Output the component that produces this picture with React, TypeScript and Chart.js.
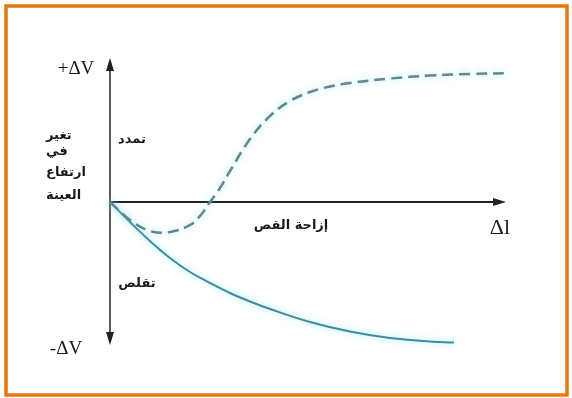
import React, { useEffect, useRef } from "react";
import { Chart, registerables } from "chart.js";

Chart.register(...registerables);

// Δl (shear displacement), arbitrary units
const dilatantX = [0, 0.5, 1, 1.5, 2, 2.25, 2.5, 2.75, 3, 3.5, 4, 4.5, 5, 5.5, 6, 7, 8, 9, 10];
// ΔV for the dashed (dilatant / dense) curve
const dilatantY = [0, -0.18, -0.29, -0.3, -0.23, -0.14, 0, 0.14, 0.31, 0.63, 0.86, 1.01, 1.1, 1.155, 1.19, 1.235, 1.265, 1.28, 1.29];

const contractX = [0, 0.5, 1, 1.5, 2, 2.5, 3, 3.5, 4, 5, 6, 7, 8, 8.6];
// ΔV for the solid (contractive / loose) curve
const contractY = [0, -0.2, -0.39, -0.56, -0.7, -0.81, -0.91, -0.995, -1.07, -1.2, -1.295, -1.36, -1.395, -1.405];

const yAxisTop = 1.44;
const yAxisBottom = -1.43;
const xAxisEnd = 9.9;

const labelPlus = "+ΔV";
const labelMinus = "-ΔV";
const labelDl = "Δl";
const labelYTitle = ["تغير", "في", "ارتفاع", "العينة"];
const labelExpand = "تمدد";
const labelContract = "تقلص";
const labelShear = "إزاحة القص";

const toPts = (xs: number[], ys: number[]) => xs.map((x, i) => ({ x, y: ys[i] }));

const decorPlugin = {
  id: "decor",
  beforeDatasetsDraw(chart: any) {
    const { ctx, scales } = chart;
    const xs = scales.x;
    const ys = scales.y;
    const ox = xs.getPixelForValue(0);
    const oy = ys.getPixelForValue(0);
    const top = ys.getPixelForValue(yAxisTop);
    const bot = ys.getPixelForValue(yAxisBottom);
    const right = xs.getPixelForValue(xAxisEnd);
    ctx.save();
    // frame
    ctx.strokeStyle = "#e8750f";
    ctx.lineWidth = 3.5;
    ctx.strokeRect(6, 6, chart.width - 11, chart.height - 9);
    // axes
    ctx.strokeStyle = "#222";
    ctx.fillStyle = "#222";
    ctx.lineWidth = 1.5;
    ctx.beginPath();
    ctx.moveTo(ox, top + 8);
    ctx.lineTo(ox, bot - 8);
    ctx.stroke();
    ctx.lineWidth = 1.8;
    ctx.beginPath();
    ctx.moveTo(ox, oy);
    ctx.lineTo(right - 8, oy);
    ctx.stroke();
    // arrowheads
    ctx.beginPath();
    ctx.moveTo(ox, top);
    ctx.lineTo(ox - 4, top + 13);
    ctx.lineTo(ox + 4, top + 13);
    ctx.closePath();
    ctx.fill();
    ctx.beginPath();
    ctx.moveTo(ox, bot);
    ctx.lineTo(ox - 4, bot - 13);
    ctx.lineTo(ox + 4, bot - 13);
    ctx.closePath();
    ctx.fill();
    ctx.beginPath();
    ctx.moveTo(right, oy);
    ctx.lineTo(right - 13, oy - 4);
    ctx.lineTo(right - 13, oy + 4);
    ctx.closePath();
    ctx.fill();
    ctx.restore();

    // glow for lines
    ctx.save();
    ctx.shadowColor = "rgba(110,225,240,0.75)";
    ctx.shadowBlur = 6;
  },
  afterDatasetsDraw(chart: any) {
    const { ctx } = chart;
    ctx.restore();
    ctx.save();
    ctx.fillStyle = "#1a1a1a";
    ctx.textBaseline = "middle";
    ctx.textAlign = "center";
    ctx.font = '19px "Liberation Serif", serif';
    ctx.fillText(labelPlus, 76, 69);
    ctx.fillText(labelMinus, 66, 349);
    ctx.font = '22px "Liberation Serif", serif';
    ctx.fillText(labelDl, 500, 228);
    ctx.direction = "rtl";
    ctx.font = 'bold 13px "DejaVu Sans", sans-serif';
    ctx.textAlign = "left";
    const ycy = [136, 152, 173, 196];
    labelYTitle.forEach((t, i) => ctx.fillText(t, 46, ycy[i]));
    ctx.textAlign = "center";
    ctx.fillText(labelExpand, 132, 140);
    ctx.fillText(labelContract, 137, 284);
    ctx.fillText(labelShear, 291, 226);
    ctx.restore();
  },
};

export default function App() {
  const ref = useRef<HTMLCanvasElement | null>(null);
  useEffect(() => {
    if (!ref.current) return;
    const chart = new Chart(ref.current, {
      type: "line",
      data: {
        datasets: [
          {
            data: toPts(dilatantX, dilatantY),
            borderColor: "#66868c",
            borderWidth: 2.5,
            borderDash: [11, 6],
            pointRadius: 0,
            tension: 0.4,
            fill: false,
          },
          {
            data: toPts(contractX, contractY),
            borderColor: "#3e8d9a",
            borderWidth: 2,
            pointRadius: 0,
            tension: 0.4,
            fill: false,
          },
        ],
      },
      options: {
        responsive: false,
        animation: false,
        devicePixelRatio: 1,
        layout: { padding: 0 },
        plugins: { legend: { display: false }, tooltip: { enabled: false } },
        scales: {
          x: { type: "linear", display: false, min: -2.75, max: 11.55 },
          y: { type: "linear", display: false, min: -1.96, max: 2.02 },
        },
      },
      plugins: [decorPlugin],
    });
    return () => chart.destroy();
  }, []);
  return (
    <div style={{ position: "fixed", left: 0, top: 0, width: 572, height: 398, background: "#fff" }}>
      <canvas ref={ref} width={572} height={398} style={{ display: "block" }} />
    </div>
  );
}
